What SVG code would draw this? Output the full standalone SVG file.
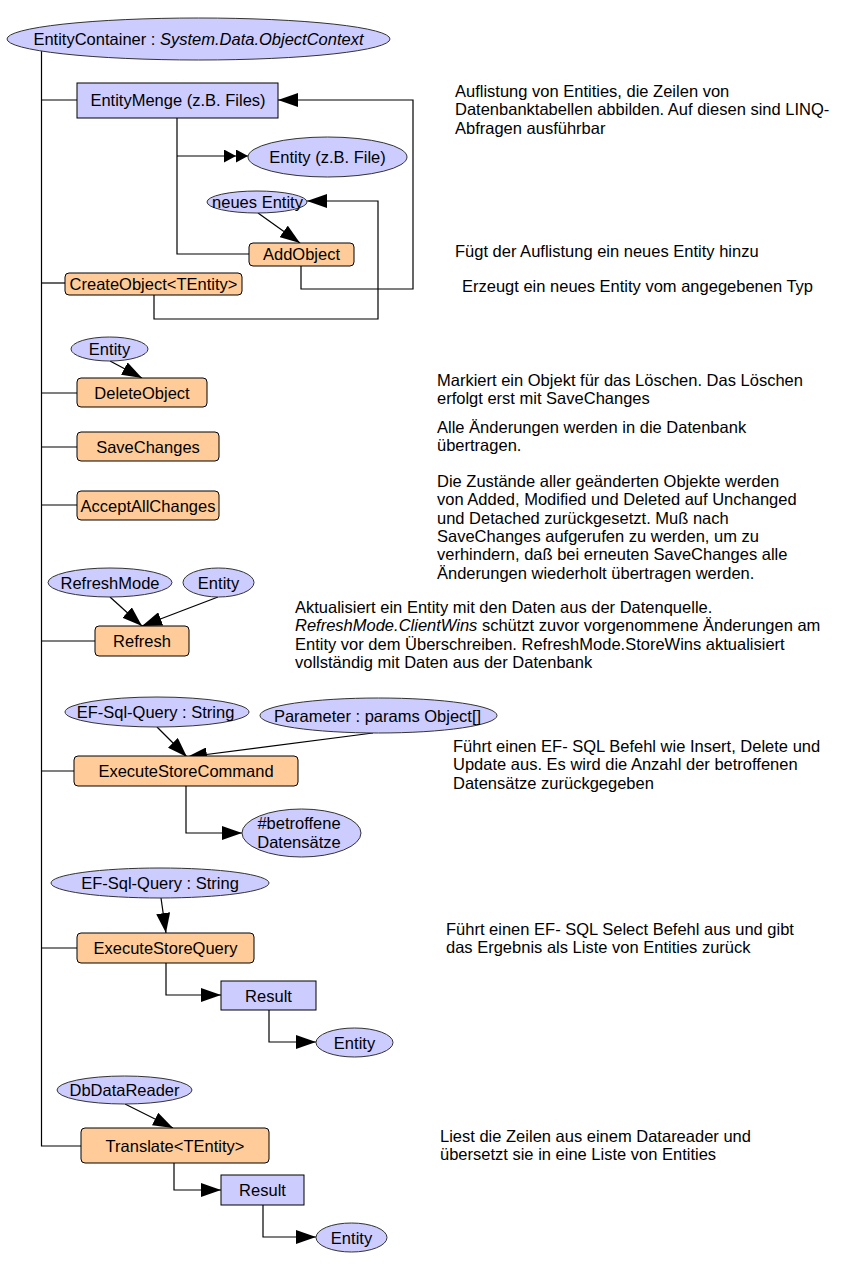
<svg xmlns="http://www.w3.org/2000/svg" width="850" height="1276" viewBox="0 0 850 1276">
<defs>
<style>
text{font-family:"Liberation Sans",Arial,sans-serif;font-size:16.5px;fill:#000}
.lbl{text-anchor:middle}
.ell{fill:#ccccff;stroke:#333;stroke-width:1}
.rect{fill:#ccccff;stroke:#000;stroke-width:1}
.op{fill:#ffcc99;stroke:#000;stroke-width:1}
.c{fill:none;stroke:#000;stroke-width:1.2}
.a{marker-end:url(#ah)}
.it{font-style:italic}
</style>
<marker id="ah" markerUnits="userSpaceOnUse" markerWidth="20" markerHeight="14" refX="20" refY="7" orient="auto" viewBox="0 0 20 14"><path d="M0,0 L20,7 L0,14 z" fill="#000"/></marker>
<marker id="ah2" markerUnits="userSpaceOnUse" markerWidth="24" markerHeight="13" refX="24" refY="6.5" orient="auto" viewBox="0 0 24 13"><path d="M0,0 L12,6.5 L0,13 z M12,0 L24,6.5 L12,13 z" fill="#000"/></marker>
</defs>
<rect width="850" height="1276" fill="#fff"/>
<g id="connectors">
<path class="c" d="M41.5,51 V1146 H81"/>
<path class="c" d="M41.5,100 H77"/>
<path class="c" d="M41.5,283 H65"/>
<path class="c" d="M41.5,393 H77"/>
<path class="c" d="M41.5,447 H77"/>
<path class="c" d="M41.5,505 H77"/>
<path class="c" d="M41.5,641 H95"/>
<path class="c" d="M41.5,771 H74"/>
<path class="c" d="M41.5,948 H77"/>
<path class="c" d="M177,118 V254 H249"/>
<path class="c" d="M177,156 H248" marker-end="url(#ah2)"/>
<path class="c a" d="M301,266 V289 H413 V100 H278"/>
<path class="c a" d="M154,295 V319 H378 V201 H307"/>
<path class="c a" d="M258,213 L300,243"/>
<path class="c a" d="M110,361 L142,378"/>
<path class="c a" d="M110,597 L142,626"/>
<path class="c a" d="M218,597 L142,626"/>
<path class="c a" d="M157,727 L187,757"/>
<path class="c a" d="M373,733 L187,757"/>
<path class="c a" d="M186,786 V833 H242"/>
<path class="c a" d="M161,898 L166,933"/>
<path class="c a" d="M166,963 V995 H221"/>
<path class="c a" d="M269,1010 V1042 H316"/>
<path class="c a" d="M125,1104 L173,1128"/>
<path class="c a" d="M174,1163 V1190 H221"/>
<path class="c a" d="M263,1205 V1237 H316"/>
</g>
<g id="entityContainer"><ellipse class="ell" cx="198.5" cy="39" rx="191.5" ry="21"/><text class="lbl" x="198.5" y="45">EntityContainer : <tspan class="it">System.Data.ObjectContext</tspan></text></g>
<g id="entityMenge"><rect class="rect" x="77" y="83" width="201" height="35"/><text class="lbl" x="178" y="106">EntityMenge (z.B. Files)</text></g>
<g id="entityFile"><ellipse class="ell" cx="327.5" cy="157" rx="79.5" ry="20"/><text class="lbl" x="327.5" y="163">Entity (z.B. File)</text></g>
<g id="neuesEntity"><ellipse class="ell" cx="257" cy="202" rx="50" ry="11"/><text class="lbl" x="257.5" y="208">neues Entity</text></g>
<g id="addObject"><rect class="op" x="249" y="243" width="105" height="23" rx="4"/><text class="lbl" x="301.5" y="260">AddObject</text></g>
<g id="createObject"><rect class="op" x="65" y="273" width="177" height="22" rx="4"/><text class="lbl" x="153.5" y="290">CreateObject&lt;TEntity&gt;</text></g>
<g id="entityDel"><ellipse class="ell" cx="109.5" cy="349" rx="38.5" ry="12"/><text class="lbl" x="109.5" y="355">Entity</text></g>
<g id="deleteObject"><rect class="op" x="77" y="378" width="130" height="29" rx="4"/><text class="lbl" x="142" y="398.5">DeleteObject</text></g>
<g id="saveChanges"><rect class="op" x="77" y="432" width="142" height="29" rx="4"/><text class="lbl" x="148" y="452.5">SaveChanges</text></g>
<g id="acceptAllChanges"><rect class="op" x="77" y="491" width="142" height="29" rx="4"/><text class="lbl" x="148" y="511.5">AcceptAllChanges</text></g>
<g id="refreshMode"><ellipse class="ell" cx="110" cy="582.5" rx="62" ry="14.5"/><text class="lbl" x="110" y="588.5">RefreshMode</text></g>
<g id="entityRefresh"><ellipse class="ell" cx="218.5" cy="582.5" rx="35.5" ry="14.5"/><text class="lbl" x="218.5" y="588.5">Entity</text></g>
<g id="refresh"><rect class="op" x="95" y="626" width="94" height="30" rx="4"/><text class="lbl" x="142" y="647">Refresh</text></g>
<g id="efSqlQuery1"><ellipse class="ell" cx="157" cy="712" rx="92" ry="15"/><text class="lbl" x="155.5" y="718">EF-Sql-Query : String</text></g>
<g id="parameter"><ellipse class="ell" cx="378.5" cy="715.5" rx="118.5" ry="17.5"/><text class="lbl" x="377.5" y="721.5">Parameter : params Object[]</text></g>
<g id="executeStoreCommand"><rect class="op" x="74" y="756" width="224" height="30" rx="4"/><text class="lbl" x="186" y="777">ExecuteStoreCommand</text></g>
<g id="betroffene"><ellipse class="ell" cx="301.5" cy="833" rx="59.5" ry="24"/><text class="lbl" x="299" y="829">#betroffene</text><text class="lbl" x="299" y="848">Datensätze</text></g>
<g id="efSqlQuery2"><ellipse class="ell" cx="160" cy="883" rx="109" ry="15"/><text class="lbl" x="160" y="889">EF-Sql-Query : String</text></g>
<g id="executeStoreQuery"><rect class="op" x="77" y="933" width="177" height="30" rx="4"/><text class="lbl" x="165.5" y="954">ExecuteStoreQuery</text></g>
<g id="result1"><rect class="rect" x="221" y="981" width="95" height="29"/><text class="lbl" x="268.5" y="1001.5">Result</text></g>
<g id="entity1"><ellipse class="ell" cx="354.5" cy="1042.5" rx="38.5" ry="14.5"/><text class="lbl" x="354.5" y="1048.5">Entity</text></g>
<g id="dbDataReader"><ellipse class="ell" cx="124.5" cy="1090" rx="67.5" ry="14"/><text class="lbl" x="124.5" y="1096">DbDataReader</text></g>
<g id="translate"><rect class="op" x="81" y="1128" width="188" height="35" rx="4"/><text class="lbl" x="175" y="1151.5">Translate&lt;TEntity&gt;</text></g>
<g id="result2"><rect class="rect" x="221" y="1175" width="83" height="30"/><text class="lbl" x="262.5" y="1196">Result</text></g>
<g id="entity2"><ellipse class="ell" cx="351.5" cy="1237.5" rx="35.5" ry="14.5"/><text class="lbl" x="351.5" y="1243.5">Entity</text></g>
<g id="notes">
<text x="455" y="97">Auflistung von Entities, die Zeilen von</text>
<text x="455" y="115.3">Datenbanktabellen abbilden. Auf diesen sind LINQ-</text>
<text x="455" y="133.6">Abfragen ausführbar</text>
<text x="455" y="257">Fügt der Auflistung ein neues Entity hinzu</text>
<text x="462" y="292">Erzeugt ein neues Entity vom angegebenen Typ</text>
<text x="437" y="386">Markiert ein Objekt für das Löschen. Das Löschen</text>
<text x="437" y="404.3">erfolgt erst mit SaveChanges</text>
<text x="437" y="433">Alle Änderungen werden in die Datenbank</text>
<text x="437" y="451.3">übertragen.</text>
<text x="437" y="487">Die Zustände aller geänderten Objekte werden</text>
<text x="437" y="505.3">von Added, Modified und  Deleted auf Unchanged</text>
<text x="437" y="523.6">und Detached zurückgesetzt. Muß nach</text>
<text x="437" y="541.9">SaveChanges aufgerufen zu werden, um zu</text>
<text x="437" y="560.2">verhindern, daß bei erneuten SaveChanges alle</text>
<text x="437" y="578.5">Änderungen wiederholt übertragen werden.</text>
<text x="295" y="613">Aktualisiert ein Entity mit den Daten aus der Datenquelle.</text>
<text x="295" y="631.3"><tspan class="it">RefreshMode.ClientWins</tspan> schützt zuvor vorgenommene Änderungen am</text>
<text x="295" y="649.6">Entity vor dem Überschreiben. RefreshMode.StoreWins aktualisiert</text>
<text x="295" y="667.9">vollständig mit Daten aus der Datenbank</text>
<text x="453" y="752">Führt einen EF- SQL Befehl wie Insert, Delete und</text>
<text x="453" y="770.3">Update aus. Es wird die Anzahl der betroffenen</text>
<text x="453" y="788.6">Datensätze zurückgegeben</text>
<text x="446" y="935">Führt einen EF- SQL Select Befehl aus und gibt</text>
<text x="446" y="953.3">das Ergebnis als Liste von Entities zurück</text>
<text x="440" y="1142">Liest die Zeilen aus einem Datareader und</text>
<text x="440" y="1160.3">übersetzt sie in eine Liste von Entities</text>
</g>
</svg>
